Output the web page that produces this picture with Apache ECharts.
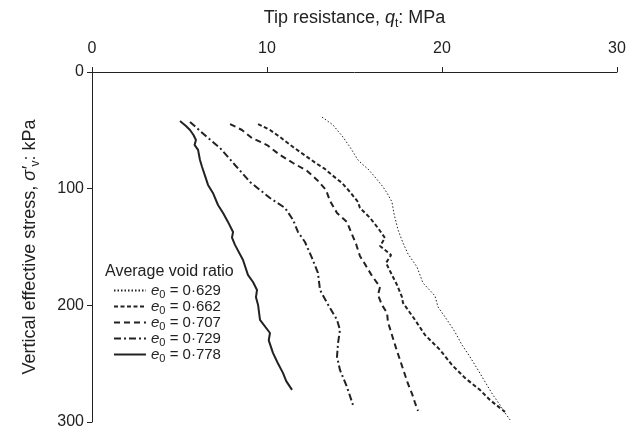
<!DOCTYPE html>
<html>
<head>
<meta charset="utf-8">
<script src="https://cdn.jsdelivr.net/npm/echarts@6/dist/echarts.min.js"></script>
<style>html,body{margin:0;padding:0;background:#fff}#c{width:639px;height:434px}</style>
</head>
<body>
<div id="c"></div>
<script>
var xTicks = [0, 10, 20, 30];
var yTicks = [0, 100, 200, 300];
var seriesNames = ['0·629', '0·662', '0·707', '0·729', '0·778'];

var e0629 = [[13.14,38.6],[13.77,45.4],[14.34,55.7],[14.74,64.3],[15.20,75.4],[15.43,78.8],[15.77,83.1],[16.17,90.0],[16.63,98.5],[16.86,103.7],[17.14,111.4],[17.26,121.7],[17.49,135.4],[17.77,146.5],[18.06,156.0],[18.57,167.1],[18.91,180.8],[19.60,191.9],[19.77,201.4],[20.29,212.5],[20.74,222.8],[21.14,233.9],[21.60,244.2],[22.06,255.4],[22.46,265.6],[22.91,276.8],[23.31,285.3],[23.60,292.2],[23.89,298.2]];
var e0662 = [[9.49,44.6],[10.17,49.7],[10.74,55.7],[11.49,64.3],[12.29,72.8],[12.86,78.8],[13.31,83.1],[13.71,88.3],[14.29,95.1],[14.74,102.8],[15.20,111.4],[15.31,116.5],[15.89,125.1],[16.34,133.7],[16.74,142.2],[16.46,149.1],[17.09,156.8],[16.80,163.7],[17.14,173.9],[17.43,182.5],[17.71,192.8],[17.77,197.9],[18.46,212.5],[19.03,225.4],[19.89,238.2],[20.57,251.1],[21.31,262.2],[22.17,272.5],[22.74,281.1],[23.31,287.9],[23.60,291.3]];
var e0707 = [[7.89,44.6],[8.57,49.7],[9.14,56.6],[10.00,62.6],[10.74,71.1],[11.49,78.0],[12.29,84.8],[12.86,92.5],[13.37,101.1],[13.60,110.5],[14.00,120.8],[14.57,128.5],[14.80,137.1],[15.09,147.4],[15.31,157.7],[15.66,166.2],[16.00,174.8],[16.46,184.2],[16.34,191.1],[16.57,199.7],[16.86,206.5],[16.91,214.2],[17.14,225.4],[17.37,236.5],[17.60,246.8],[17.83,257.1],[18.06,267.4],[18.29,275.9],[18.46,283.6],[18.63,290.5]];
var e0729 = [[5.60,42.8],[6.57,55.7],[7.31,65.1],[8.17,79.7],[9.03,94.3],[10.17,108.0],[11.03,116.5],[11.49,126.8],[11.77,137.1],[12.17,145.7],[12.57,159.4],[12.91,172.2],[13.03,186.8],[13.43,197.9],[14.00,212.5],[14.17,221.1],[14.06,232.2],[14.00,244.2],[14.17,255.4],[14.57,269.9],[14.91,285.3]];
var e0778 = [[5.03,42.0],[5.37,46.3],[5.60,49.7],[5.80,54.0],[5.94,58.3],[5.86,62.5],[6.06,66.8],[6.17,75.4],[6.29,81.4],[6.46,89.0],[6.63,96.8],[6.91,103.7],[7.20,114.0],[7.49,120.8],[7.77,128.5],[8.06,137.1],[8.00,142.0],[8.17,148.2],[8.63,161.1],[8.91,173.9],[9.20,180.0],[9.43,186.8],[9.37,193.0],[9.49,199.7],[9.60,212.5],[10.17,223.7],[10.10,230.0],[10.34,240.8],[10.60,249.0],[10.91,257.9],[11.10,265.0],[11.43,272.5]];

var seriesData = [e0629, e0662, e0707, e0729, e0778];
var dashTypes = [[1.5,2], [4,2.5], [6,4], [7,3,2,3], 'solid'];
var widths = [1, 2, 2, 2, 2];
var ink = '#222';

var chart = echarts.init(document.getElementById('c'), null, {renderer: 'canvas'});
var font = 'Liberation Sans, Arial, sans-serif';

function nameRich(size) {
  return {
    a: {fontSize: size, fontFamily: font, color: ink, lineHeight: 24},
    i: {fontSize: size, fontFamily: font, color: ink, fontStyle: 'italic', lineHeight: 24},
    s: {fontSize: 12, fontFamily: font, color: ink, lineHeight: 12, verticalAlign: 'bottom'}
  };
}

chart.setOption({
  backgroundColor: '#fff',
  animation: false,
  textStyle: {fontFamily: font, color: ink},
  grid: {left: 92, top: 72, width: 525, height: 350, containLabel: false},
  graphic: [{
    type: 'text', left: 105, top: 264,
    style: {text: 'Average void ratio', font: '16px ' + font, fill: ink}
  }],
  legend: {
    orient: 'vertical', left: 108, top: 278,
    itemWidth: 32, itemHeight: 12, itemGap: -1.5,
    itemStyle: {opacity: 0},
    data: seriesNames.map(function(n){ return 'e' + n; }),
    formatter: function(name){ return '{i|e}{s|0}{n| = ' + name.slice(1) + '}'; },
    textStyle: {
      fontFamily: font, fontSize: 15, color: ink,
      rich: {
        i: {fontStyle: 'italic', fontSize: 15, fontFamily: font, color: ink, lineHeight: 20},
        s: {fontSize: 11, fontFamily: font, color: ink, lineHeight: 10, verticalAlign: 'bottom'},
        n: {fontSize: 15, fontFamily: font, color: ink, lineHeight: 20}
      }
    }
  },
  xAxis: {
    type: 'value', position: 'top', min: 0, max: 30, interval: 10,
    name: '{a|Tip resistance, }{i|q}{s|t}{a|: MPa}',
    nameLocation: 'middle', nameGap: 42,
    nameTextStyle: {rich: nameRich(18)},
    axisLine: {lineStyle: {color: ink, width: 1}},
    axisTick: {show: true, inside: false, length: 5, lineStyle: {color: ink}},
    axisLabel: {fontSize: 16, color: ink, fontFamily: font, margin: 15,
      formatter: function(v){ return xTicks.indexOf(v) >= 0 ? String(v) : ''; }},
    splitLine: {show: false}
  },
  yAxis: {
    type: 'value', inverse: true, min: 0, max: 300, interval: 100,
    name: '{a|Vertical effective stress, }{i|σ′}{s|v}{a|: kPa}',
    nameLocation: 'middle', nameGap: 50, nameRotate: 90,
    nameTextStyle: {rich: nameRich(18)},
    axisLine: {show: true, onZero: false, lineStyle: {color: ink, width: 1}},
    axisTick: {show: true, inside: false, length: 5, lineStyle: {color: ink}},
    axisLabel: {fontSize: 16, color: ink, fontFamily: font, margin: 8,
      formatter: function(v){ return yTicks.indexOf(v) >= 0 ? String(v) : ''; }},
    splitLine: {show: false}
  },
  series: seriesNames.map(function(n, i){
    return {
      name: 'e' + n, type: 'line', data: seriesData[i],
      showSymbol: false, symbol: 'none', smooth: false,
      lineStyle: {color: ink, width: widths[i], type: dashTypes[i]},
      itemStyle: {color: ink}
    };
  })
});
</script>
</body>
</html>
